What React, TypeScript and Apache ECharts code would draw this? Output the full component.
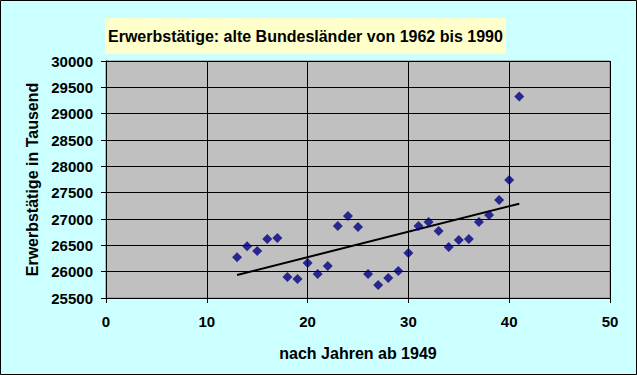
import React, { useEffect, useRef } from "react";
import * as echarts from "echarts";

const years: number[] = [13, 14, 15, 16, 17, 18, 19, 20, 21, 22, 23, 24, 25, 26, 27, 28, 29, 30, 31, 32, 33, 34, 35, 36, 37, 38, 39, 40, 41];
const employed: number[] = [26272, 26481, 26392, 26620, 26639, 25899, 25861, 26164, 25955, 26107, 26867, 27056, 26848, 25955, 25747, 25880, 26012, 26354, 26867, 26943, 26772, 26468, 26601, 26620, 26943, 27075, 27360, 27740, 29328];
const trendX: number[] = [13, 41];
const trendY: number[] = [25937, 27290];
const xTicks = { min: 0, max: 50, interval: 10 };
const yTicks = { min: 25500, max: 30000, interval: 500 };

const FONT = "'Liberation Sans', Arial, sans-serif";

export default function App() {
  const ref = useRef<HTMLDivElement>(null);
  useEffect(() => {
    document.body.style.margin = "0";
    const chart = echarts.init(ref.current!, undefined, { renderer: "svg" });
    chart.setOption({
      animation: false,
      backgroundColor: "#CCFFFF",
      title: {
        text: "Erwerbstätige: alte Bundesländer von 1962 bis 1990",
        left: 105,
        top: 18,
        backgroundColor: "#FFFFCC",
        padding: [10, 3, 10, 3],
        textStyle: { fontFamily: FONT, fontSize: 16, fontWeight: "bold", color: "#000", lineHeight: 16 },
      },
      graphic: [
        {
          type: "rect",
          shape: { x: 0.5, y: 0.5, width: 636, height: 374 },
          style: { fill: "none", stroke: "#000", lineWidth: 1 },
          silent: true,
        },
      ],
      grid: {
        left: 106,
        top: 61,
        width: 504,
        height: 237,
        show: true,
        backgroundColor: "#C0C0C0",
        borderColor: "#808080",
        borderWidth: 1,
      },
      xAxis: {
        type: "value",
        min: xTicks.min,
        max: xTicks.max,
        interval: xTicks.interval,
        name: "nach Jahren ab 1949",
        nameLocation: "middle",
        nameGap: 47,
        nameTextStyle: { fontFamily: FONT, fontSize: 16, fontWeight: "bold", color: "#000" },
        axisLine: { show: true, onZero: false, lineStyle: { color: "#000", width: 1 } },
        axisTick: { show: true, inside: false, length: 5, lineStyle: { color: "#000" } },
        axisLabel: { fontFamily: FONT, fontSize: 15, fontWeight: "bold", color: "#000", margin: 16 },
        splitLine: { show: true, lineStyle: { color: "#000", width: 1 } },
      },
      yAxis: {
        type: "value",
        min: yTicks.min,
        max: yTicks.max,
        interval: yTicks.interval,
        name: "Erwerbstätige in Tausend",
        nameLocation: "middle",
        nameGap: 66,
        nameTextStyle: { fontFamily: FONT, fontSize: 16, fontWeight: "bold", color: "#000" },
        axisLine: { show: true, onZero: false, lineStyle: { color: "#000", width: 1 } },
        axisTick: { show: true, inside: false, length: 5, lineStyle: { color: "#000" } },
        axisLabel: {
          fontFamily: FONT,
          fontSize: 15,
          fontWeight: "bold",
          color: "#000",
          margin: 13,
          formatter: (v: number) => String(v),
        },
        splitLine: { show: true, lineStyle: { color: "#000", width: 1 } },
      },
      series: [
        {
          type: "line",
          data: trendX.map((x, i) => [x, trendY[i]]),
          showSymbol: false,
          symbol: "none",
          lineStyle: { color: "#000", width: 2 },
          z: 2,
        },
        {
          type: "scatter",
          data: years.map((x, i) => [x, employed[i]]),
          symbol: "diamond",
          symbolSize: 10,
          itemStyle: { color: "#000080" },
          z: 3,
        },
      ],
    });
    return () => chart.dispose();
  }, []);
  return <div ref={ref} style={{ width: 637, height: 375 }} />;
}
